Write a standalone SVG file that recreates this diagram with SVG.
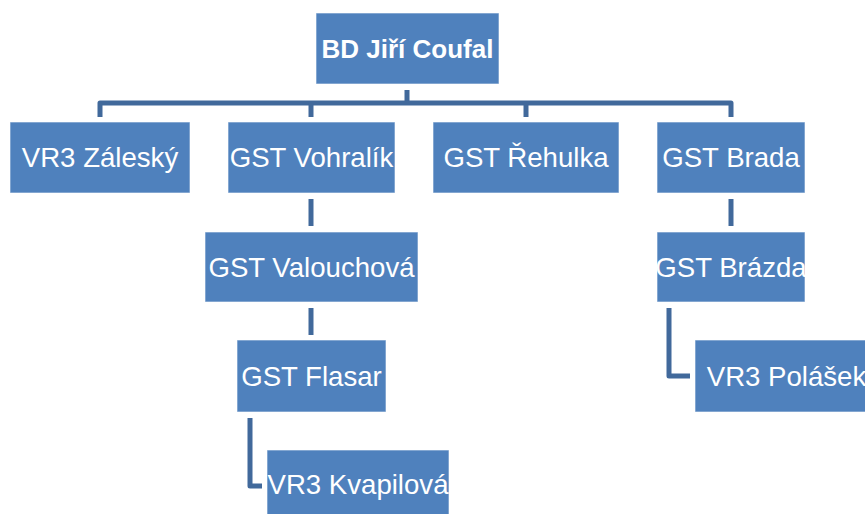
<svg xmlns="http://www.w3.org/2000/svg" width="865" height="514" viewBox="0 0 865 514">
<style>
.node rect{fill:#4F81BD;stroke:#FFFFFF;stroke-opacity:0.6;stroke-width:1}
.node text{fill:#FFFFFF;font-family:"Liberation Sans",Arial,sans-serif;font-size:27.6px;text-anchor:middle}
.node text.b{font-weight:bold;font-size:26px}
#connectors path{fill:none;stroke:#41699B;stroke-width:5;stroke-linejoin:round;stroke-linecap:butt}
</style>
<rect width="865" height="514" fill="#FFFFFF"/>
<g id="connectors">
<path d="M407,90 V103"/>
<path d="M100,117 V103 H731 V117"/>
<path d="M311,103 V117"/>
<path d="M526,103 V117"/>
<path d="M311,199 V226"/>
<path d="M311,308 V335"/>
<path d="M731,199 V226"/>
<path d="M250,418 V486 H262"/>
<path d="M669,308 V376 H690"/>
</g>
<g id="n-coufal" class="node"><rect x="316" y="13" width="183" height="71"/><text class="b" x="407.5" y="58">BD Jiří Coufal</text></g>
<g id="n-zalesky" class="node"><rect x="10" y="122" width="180" height="71"/><text x="100" y="167">VR3 Záleský</text></g>
<g id="n-vohralik" class="node"><rect x="228" y="122" width="167" height="71"/><text x="311.5" y="167">GST Vohralík</text></g>
<g id="n-rehulka" class="node"><rect x="433" y="122" width="186" height="71"/><text x="526" y="167">GST Řehulka</text></g>
<g id="n-brada" class="node"><rect x="657" y="122" width="148" height="71"/><text x="731" y="167">GST Brada</text></g>
<g id="n-valouchova" class="node"><rect x="205" y="232" width="213" height="70"/><text x="311.5" y="277">GST Valouchová</text></g>
<g id="n-brazda" class="node"><rect x="657" y="232" width="148" height="70"/><text x="731" y="277">GST Brázda</text></g>
<g id="n-flasar" class="node"><rect x="237" y="340" width="149" height="72"/><text x="311.5" y="386">GST Flasar</text></g>
<g id="n-polasek" class="node"><rect x="695" y="340" width="183" height="72"/><text x="786.5" y="386">VR3 Polášek</text></g>
<g id="n-kvapilova" class="node"><rect x="267" y="450" width="182" height="71"/><text x="358" y="494">VR3 Kvapilová</text></g>
</svg>
